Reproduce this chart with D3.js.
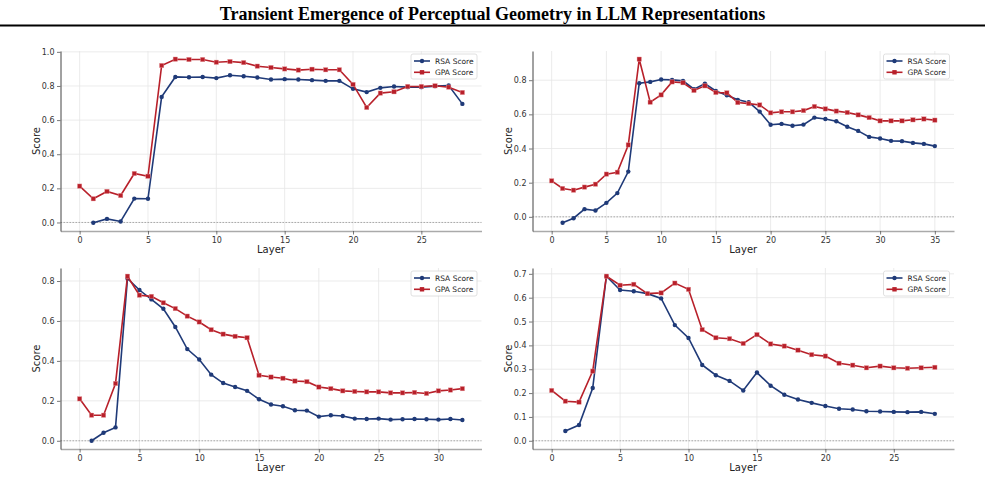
<!DOCTYPE html>
<html>
<head>
<meta charset="utf-8">
<script src="https://cdn.jsdelivr.net/npm/d3@7"></script>
<style>
  html, body { margin: 0; padding: 0; background: #fff; }
  svg { display: block; }
</style>
</head>
<body>
<svg id="chart" width="985" height="480"></svg>
<script>
// ---------------- DATA ----------------
const chartTitle = "Transient Emergence of Perceptual Geometry in LLM Representations";
const seriesNames = ["RSA Score", "GPA Score"];

// Panel 1 (top-left): layers 0..28
const p1RSA = [null, -0.002, 0.021, 0.006, 0.140, 0.139, 0.736, 0.853, 0.851, 0.853, 0.846, 0.863, 0.857, 0.850, 0.838, 0.840, 0.838, 0.834, 0.830, 0.830, 0.783, 0.764, 0.789, 0.797, 0.793, 0.793, 0.799, 0.803, 0.695];
const p1GPA = [0.213, 0.139, 0.182, 0.158, 0.287, 0.271, 0.920, 0.957, 0.955, 0.955, 0.939, 0.943, 0.937, 0.916, 0.908, 0.900, 0.893, 0.898, 0.895, 0.895, 0.809, 0.674, 0.758, 0.766, 0.797, 0.797, 0.801, 0.793, 0.762];

// Panel 2 (top-right): layers 0..35
const p2RSA = [null, -0.035, -0.008, 0.045, 0.037, 0.082, 0.139, 0.265, 0.782, 0.790, 0.804, 0.802, 0.796, 0.747, 0.780, 0.737, 0.712, 0.685, 0.671, 0.616, 0.539, 0.544, 0.533, 0.540, 0.581, 0.573, 0.560, 0.527, 0.503, 0.468, 0.459, 0.445, 0.443, 0.433, 0.427, 0.414];
const p2GPA = [0.211, 0.166, 0.156, 0.174, 0.191, 0.250, 0.261, 0.421, 0.923, 0.671, 0.714, 0.790, 0.785, 0.740, 0.767, 0.728, 0.726, 0.669, 0.663, 0.655, 0.609, 0.615, 0.615, 0.622, 0.646, 0.632, 0.619, 0.611, 0.597, 0.581, 0.562, 0.562, 0.562, 0.568, 0.573, 0.566];

// Panel 3 (bottom-left): layers 0..32
const p3RSA = [null, 0.000, 0.040, 0.067, 0.813, 0.755, 0.708, 0.661, 0.570, 0.459, 0.407, 0.331, 0.289, 0.269, 0.250, 0.208, 0.182, 0.173, 0.153, 0.151, 0.121, 0.128, 0.124, 0.111, 0.109, 0.111, 0.106, 0.108, 0.109, 0.108, 0.106, 0.109, 0.104];
const p3GPA = [0.210, 0.128, 0.128, 0.287, 0.824, 0.729, 0.723, 0.691, 0.662, 0.624, 0.595, 0.556, 0.534, 0.523, 0.516, 0.328, 0.319, 0.313, 0.299, 0.296, 0.269, 0.261, 0.250, 0.247, 0.245, 0.245, 0.240, 0.240, 0.242, 0.237, 0.250, 0.254, 0.261];

// Panel 4 (bottom-right): layers 0..28
const p4RSA = [null, 0.041, 0.066, 0.221, 0.690, 0.632, 0.627, 0.617, 0.597, 0.485, 0.431, 0.318, 0.275, 0.251, 0.211, 0.286, 0.231, 0.193, 0.173, 0.159, 0.146, 0.134, 0.131, 0.124, 0.123, 0.121, 0.120, 0.121, 0.113];
const p4GPA = [0.211, 0.166, 0.162, 0.292, 0.690, 0.652, 0.656, 0.617, 0.620, 0.661, 0.635, 0.466, 0.432, 0.428, 0.408, 0.445, 0.406, 0.397, 0.380, 0.361, 0.355, 0.325, 0.317, 0.306, 0.313, 0.306, 0.304, 0.306, 0.308];

// Tick values
const xTicks1 = [0, 5, 10, 15, 20, 25];
const xTicks2 = [0, 5, 10, 15, 20, 25, 30, 35];
const xTicks3 = [0, 5, 10, 15, 20, 25, 30];
const xTicks4 = [0, 5, 10, 15, 20, 25];
const yTicks1 = [0.0, 0.2, 0.4, 0.6, 0.8, 1.0];
const yTicks2 = [0.0, 0.2, 0.4, 0.6, 0.8];
const yTicks3 = [0.0, 0.2, 0.4, 0.6, 0.8];
const yTicks4 = [0.0, 0.1, 0.2, 0.3, 0.4, 0.5, 0.6, 0.7];

// ---------------- STYLE / LAYOUT ----------------
const colors = { rsa: "#1f3a78", gpa: "#b8202a" };
const FONT = "'DejaVu Sans', sans-serif";

const panels = [
  { rsa: p1RSA, gpa: p1GPA, xTicks: xTicks1, yTicks: yTicks1, box: { l: 60.5, r: 481.5, t: 51, b: 231 } },
  { rsa: p2RSA, gpa: p2GPA, xTicks: xTicks2, yTicks: yTicks2, box: { l: 532.5, r: 954, t: 51, b: 231 } },
  { rsa: p3RSA, gpa: p3GPA, xTicks: xTicks3, yTicks: yTicks3, box: { l: 60.5, r: 481.5, t: 268, b: 449 } },
  { rsa: p4RSA, gpa: p4GPA, xTicks: xTicks4, yTicks: yTicks4, box: { l: 532.5, r: 954, t: 268, b: 449 } }
];

const svg = d3.select("#chart");

// Title
svg.append("text")
  .attr("x", 492.5).attr("y", 19.5)
  .attr("text-anchor", "middle")
  .attr("font-family", "'Liberation Serif', 'Times New Roman', serif")
  .attr("font-weight", "bold")
  .attr("font-size", 18)
  .attr("fill", "#000")
  .text(chartTitle);
svg.append("line")
  .attr("x1", 0).attr("x2", 985).attr("y1", 25.5).attr("y2", 25.5)
  .attr("stroke", "#000").attr("stroke-width", 2);

panels.forEach((p) => {
  const n = p.gpa.length - 1;
  const b = p.box;
  const xPad = n * 0.05;
  const x = d3.scaleLinear().domain([-xPad, n + xPad]).range([b.l, b.r]);

  const allVals = p.rsa.concat(p.gpa).filter(v => v !== null).concat([0]);
  const [mn, mx] = d3.extent(allVals);
  const yPad = (mx - mn) * 0.05;
  const y = d3.scaleLinear().domain([mn - yPad, mx + yPad]).range([b.b, b.t]);

  const g = svg.append("g");

  // Grid
  g.append("g").selectAll("line").data(p.xTicks).join("line")
    .attr("x1", d => x(d)).attr("x2", d => x(d))
    .attr("y1", b.t).attr("y2", b.b)
    .attr("stroke", "#e6e6e6").attr("stroke-width", 0.8);
  g.append("g").selectAll("line").data(p.yTicks).join("line")
    .attr("x1", b.l).attr("x2", b.r)
    .attr("y1", d => y(d)).attr("y2", d => y(d))
    .attr("stroke", "#e6e6e6").attr("stroke-width", 0.8);

  // zero line
  g.append("line")
    .attr("x1", b.l).attr("x2", b.r)
    .attr("y1", y(0)).attr("y2", y(0))
    .attr("stroke", "#999").attr("stroke-width", 0.8)
    .attr("stroke-dasharray", "1.5,1.5");

  // Axes
  const xAxis = d3.axisBottom(x).tickValues(p.xTicks).tickFormat(d3.format("d"))
    .tickSizeInner(3.5).tickSizeOuter(0).tickPadding(2.5);
  const gx = g.append("g").attr("transform", `translate(0,${b.b})`).call(xAxis);
  gx.select(".domain").attr("stroke", "#aaa").attr("stroke-width", 1.6);
  gx.selectAll(".tick line").attr("stroke", "#555").attr("stroke-width", 0.8);
  gx.selectAll("text").attr("font-family", FONT).attr("font-size", 8).attr("fill", "#333");

  const yAxis = d3.axisLeft(y).tickValues(p.yTicks).tickFormat(d3.format(".1f"))
    .tickSizeInner(3.5).tickSizeOuter(0).tickPadding(2.5);
  const gy = g.append("g").attr("transform", `translate(${b.l},0)`).call(yAxis);
  gy.select(".domain").attr("stroke", "#444").attr("stroke-width", 1);
  gy.selectAll(".tick line").attr("stroke", "#555").attr("stroke-width", 0.8);
  gy.selectAll("text").attr("font-family", FONT).attr("font-size", 8).attr("fill", "#333");

  // Axis labels
  g.append("text")
    .attr("x", (b.l + b.r) / 2).attr("y", b.b + 22)
    .attr("text-anchor", "middle")
    .attr("font-family", FONT).attr("font-size", 10).attr("fill", "#222")
    .text("Layer");
  g.append("text")
    .attr("transform", `translate(${b.l - 21},${(b.t + b.b) / 2}) rotate(-90)`)
    .attr("text-anchor", "middle")
    .attr("font-family", FONT).attr("font-size", 10).attr("fill", "#222")
    .text("Score");

  // Lines
  const rsaData = p.rsa.map((v, i) => ({ i, v })).filter(d => d.v !== null);
  const gpaData = p.gpa.map((v, i) => ({ i, v })).filter(d => d.v !== null);
  const line = d3.line().x(d => x(d.i)).y(d => y(d.v));

  g.append("path").datum(rsaData).attr("d", line)
    .attr("fill", "none").attr("stroke", colors.rsa).attr("stroke-width", 1.6);
  g.append("g").selectAll("circle").data(rsaData).join("circle")
    .attr("cx", d => x(d.i)).attr("cy", d => y(d.v)).attr("r", 2.2)
    .attr("fill", colors.rsa);

  g.append("path").datum(gpaData).attr("d", line)
    .attr("fill", "none").attr("stroke", colors.gpa).attr("stroke-width", 1.6);
  const sq = 4.4;
  g.append("g").selectAll("rect").data(gpaData).join("rect")
    .attr("x", d => x(d.i) - sq / 2).attr("y", d => y(d.v) - sq / 2)
    .attr("width", sq).attr("height", sq)
    .attr("fill", colors.gpa).attr("stroke", "#e8a0a4").attr("stroke-width", 0.4);

  // Legend
  const lw = 66, lh = 25;
  const lx = b.r - 4.5 - lw, ly = b.t + 3;
  const lg = g.append("g").attr("transform", `translate(${lx},${ly})`);
  lg.append("rect").attr("width", lw).attr("height", lh).attr("rx", 2)
    .attr("fill", "#fff").attr("fill-opacity", 0.85)
    .attr("stroke", "#d8d8d8").attr("stroke-width", 0.8);
  const items = [
    { name: seriesNames[0], color: colors.rsa, shape: "circle" },
    { name: seriesNames[1], color: colors.gpa, shape: "square" }
  ];
  items.forEach((it, k) => {
    const yy = 7 + k * 11.3;
    lg.append("line").attr("x1", 3).attr("x2", 19).attr("y1", yy).attr("y2", yy)
      .attr("stroke", it.color).attr("stroke-width", 1.6);
    if (it.shape === "circle") {
      lg.append("circle").attr("cx", 11).attr("cy", yy).attr("r", 2.2).attr("fill", it.color);
    } else {
      lg.append("rect").attr("x", 11 - sq / 2).attr("y", yy - sq / 2).attr("width", sq).attr("height", sq).attr("fill", it.color);
    }
    lg.append("text").attr("x", 24).attr("y", yy + 2.8)
      .attr("font-family", FONT).attr("font-size", 7.5).attr("fill", "#222")
      .text(it.name);
  });
});
</script>
</body>
</html>
